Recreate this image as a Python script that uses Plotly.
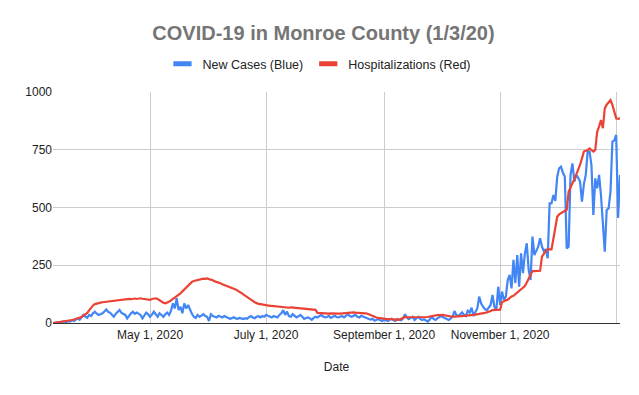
import pandas as pd
import plotly.graph_objects as go

START_DATE = "2020-03-11"
END_DATE = "2021-01-03"

new_cases = [
    0, 1, 3, 2, 5, 4, 7, 3, 8, 6, 12, 9, 15, 20, 14, 26, 35, 28, 23, 35,
    30, 42, 49, 40, 35, 38, 42, 50, 59, 48, 45, 36, 27, 40, 49, 56, 44, 38, 35, 20,
    33, 42, 49, 40, 45, 38, 35, 20, 34, 45, 38, 27, 36, 49, 38, 27, 42, 33, 27, 38,
    45, 35, 52, 85, 63, 107, 56, 70, 42, 85, 63, 78, 56, 40, 27, 22, 35, 27, 32, 38,
    30, 27, 9, 38, 30, 26, 24, 31, 27, 24, 30, 27, 22, 18, 21, 25, 20, 18, 22, 19,
    17, 21, 18, 25, 30, 24, 21, 27, 29, 24, 30, 27, 35, 31, 27, 24, 30, 26, 24, 35,
    42, 56, 35, 49, 30, 27, 38, 31, 24, 29, 35, 27, 18, 22, 24, 20, 14, 22, 27, 24,
    29, 35, 28, 24, 26, 31, 22, 27, 31, 26, 24, 28, 30, 24, 33, 38, 30, 27, 31, 35,
    27, 24, 31, 27, 24, 20, 17, 15, 18, 10, 14, 17, 12, 9, 14, 11, 9, 15, 18, 12,
    9, 17, 14, 12, 20, 38, 24, 17, 22, 27, 13, 19, 27, 18, 13, 16, 10, 6, 15, 27,
    18, 13, 20, 24, 30, 25, 20, 17, 13, 20, 27, 52, 35, 30, 38, 46, 35, 30, 53, 45,
    66, 30, 48, 63, 114, 85, 71, 60, 56, 65, 78, 121, 70, 56, 157, 78, 136, 100, 114, 186,
    208, 150, 273, 173, 294, 157, 302, 216, 300, 345, 230, 186, 374, 294, 310, 330, 367, 330, 310, 320,
    280, 518, 518, 554, 529, 633, 670, 677, 650, 633, 323, 330, 641, 691, 612, 641, 630, 612, 525, 600,
    641, 742, 742, 684, 468, 626, 583, 641, 554, 420, 309, 489, 496, 568, 785, 790, 814, 455, 641,
]

hospitalizations = [
    0, 1, 2, 3, 4, 5, 6, 7, 9, 11, 13, 15, 17, 19, 21, 26, 32, 38, 44, 55,
    66, 76, 82, 85, 87, 88, 90, 91, 93, 95, 96, 97, 98, 99, 100, 99, 101, 102, 101, 103,
    104, 103, 105, 106, 104, 106, 107, 105, 103, 104, 102, 100, 104, 106, 107, 104, 98, 92, 88, 85,
    88, 92, 98, 104, 110, 114, 120, 128, 137, 146, 155, 164, 173, 178, 182, 184, 187, 189, 190, 192,
    191, 193, 190, 188, 185, 180, 178, 174, 172, 168, 165, 161, 158, 155, 152, 150, 145, 140, 136, 130,
    124, 119, 114, 108, 102, 96, 90, 85, 83, 82, 80, 78, 76, 75, 74, 74, 73, 71, 70, 70,
    68, 68, 67, 66, 66, 68, 67, 65, 64, 64, 63, 62, 63, 61, 60, 60, 58, 58, 57, 44,
    43, 42, 42, 43, 42, 41, 42, 41, 41, 40, 41, 41, 42, 42, 43, 44, 45, 46, 46, 45,
    45, 44, 44, 43, 42, 41, 37, 33, 30, 27, 24, 22, 20, 19, 19, 18, 18, 17, 17, 16,
    15, 15, 14, 18, 22, 26, 25, 25, 24, 24, 23, 23, 24, 23, 24, 25, 25, 26, 28, 30,
    32, 33, 34, 34, 35, 35, 33, 31, 29, 28, 27, 28, 28, 29, 29, 30, 31, 32, 32, 33,
    34, 35, 36, 37, 38, 40, 42, 44, 46, 48, 52, 56, 56, 56, 56, 58, 90, 95, 98, 101,
    110, 115, 118, 125, 132, 140, 148, 155, 160, 175, 193, 208, 225, 225, 225, 225, 226, 287, 300, 312,
    319, 319, 319, 365, 410, 460, 470, 476, 482, 486, 490, 568, 590, 605, 622, 641, 660, 684, 712, 742,
    746, 749, 756, 748, 742, 749, 828, 850, 879, 843, 929, 945, 958, 965, 944, 915, 886, 884, 886,
]

series_names = ["New Cases (Blue)", "Hospitalizations (Red)"]
series_colors = ["#4285F4", "#EA4335"]
y_ticks = [0, 250, 500, 750, 1000]
x_tick_dates = ["2020-05-01", "2020-07-01", "2020-09-01", "2020-11-01", "2021-01-01"]
x_tick_labels = ["May 1, 2020", "July 1, 2020", "September 1, 2020", "November 1, 2020", ""]

dates = pd.date_range(START_DATE, periods=len(new_cases), freq="D")

FONT = "Arial, Liberation Sans, sans-serif"

# page body has an 8px margin, so the figure is sized to fit the 639x395 window
W, H = 631, 387

fig = go.Figure()
for name, color, values in zip(series_names, series_colors, [new_cases, hospitalizations]):
    fig.add_trace(go.Scatter(
        x=dates, y=values[:len(dates)], mode="lines", name=name,
        line=dict(color=color, width=2.2), showlegend=False,
    ))
# legend entries with short thick bars like the original
for name, color in zip(series_names, series_colors):
    fig.add_trace(go.Scatter(
        x=[None], y=[None], mode="markers", name=name,
        marker=dict(symbol="line-ew-open", size=13, color=color,
                    line=dict(color=color, width=5)),
    ))

fig.update_layout(
    width=W, height=H,
    margin=dict(l=45, r=19, t=84, b=72),
    paper_bgcolor="white", plot_bgcolor="white",
    font=dict(family=FONT, size=12, color="#444444"),
    title=dict(
        text="<b>COVID-19 in Monroe County (1/3/20)</b>",
        x=0.5, xanchor="center", y=1 - 25 / H, yanchor="middle",
        font=dict(family=FONT, size=20, color="#757575"),
    ),
    showlegend=True,
    legend=dict(
        orientation="h", x=0.47, xanchor="center", y=1.121, yanchor="middle",
        font=dict(family=FONT, size=12.5, color="#222222"),
        itemwidth=30, bgcolor="rgba(0,0,0,0)",
    ),
    xaxis=dict(
        type="date",
        range=[START_DATE, END_DATE],
        tickvals=x_tick_dates, ticktext=x_tick_labels,
        showgrid=True, gridcolor="#cccccc", gridwidth=1,
        showline=True, linecolor="#333333", linewidth=1.3,
        ticks="", tickfont=dict(family=FONT, size=12, color="#222222"),
        title=dict(text="Date", font=dict(family=FONT, size=12, color="#222222"), standoff=22),
        zeroline=False,
    ),
    yaxis=dict(
        range=[0, 1000],
        tickvals=y_ticks,
        showgrid=True, gridcolor="#cccccc", gridwidth=1,
        zeroline=False, ticks="",
        tickfont=dict(family=FONT, size=12, color="#222222"),
    ),
)

fig.write_html("out.html")
